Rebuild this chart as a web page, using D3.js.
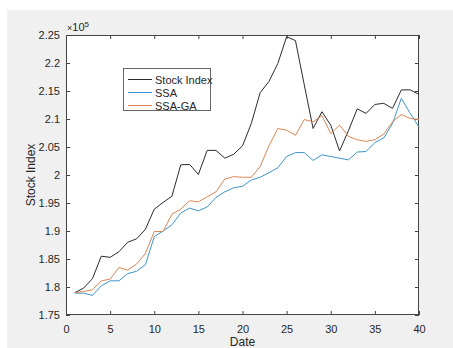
<!DOCTYPE html>
<html>
<head>
<meta charset="utf-8">
<script src="https://cdn.jsdelivr.net/npm/d3@7"></script>
<style>
  html, body { margin: 0; padding: 0; background: #fff; }
  svg { display: block; }
  text { font-family: "Liberation Sans", Arial, sans-serif; fill: #262626; }
</style>
</head>
<body>
<svg id="chart" width="453" height="348"></svg>
<script>
// Daily values in units of 1e5
const days = d3.range(1, 41);
const stockIndex = [1.790, 1.798, 1.815, 1.855, 1.853, 1.863, 1.880, 1.886, 1.903, 1.939,
                    1.951, 1.962, 2.018, 2.019, 2.001, 2.044, 2.044, 2.030, 2.037, 2.052,
                    2.092, 2.147, 2.167, 2.199, 2.247, 2.240, 2.161, 2.083, 2.113, 2.089,
                    2.043, 2.079, 2.118, 2.110, 2.126, 2.128, 2.119, 2.152, 2.152, 2.144];
const ssa =        [1.789, 1.789, 1.785, 1.802, 1.811, 1.811, 1.824, 1.828, 1.840, 1.890,
                    1.900, 1.911, 1.932, 1.941, 1.936, 1.943, 1.960, 1.970, 1.977, 1.980,
                    1.991, 1.996, 2.004, 2.013, 2.033, 2.040, 2.040, 2.026, 2.036, 2.033,
                    2.030, 2.027, 2.041, 2.042, 2.058, 2.066, 2.092, 2.137, 2.110, 2.086];
const ssaGa =      [1.790, 1.792, 1.795, 1.811, 1.814, 1.835, 1.830, 1.841, 1.860, 1.899,
                    1.899, 1.930, 1.939, 1.954, 1.952, 1.961, 1.970, 1.993, 1.997, 1.996,
                    1.996, 2.015, 2.052, 2.083, 2.080, 2.071, 2.099, 2.095, 2.106, 2.074,
                    2.089, 2.069, 2.063, 2.060, 2.063, 2.073, 2.095, 2.108, 2.101, 2.099];
const seriesNames = ["Stock Index", "SSA", "SSA-GA"];
const seriesColors = ["#2b2b2b", "#3d95c9", "#d98657"];
const xTicks = [0, 5, 10, 15, 20, 25, 30, 35, 40];
const yTicks = [1.75, 1.8, 1.85, 1.9, 1.95, 2, 2.05, 2.1, 2.15, 2.2, 2.25];

const svg = d3.select("#chart");

// figure background
svg.append("rect").attr("x", 7).attr("y", 10).attr("width", 446).attr("height", 338)
  .attr("fill", "#f0f0f0");

const plot = { left: 66, top: 35, right: 419, bottom: 315 };
const x = d3.scaleLinear().domain([0, 40]).range([plot.left, plot.right]);
const y = d3.scaleLinear().domain([1.75, 2.25]).range([plot.bottom, plot.top]);

// axes area
svg.append("rect").attr("x", plot.left).attr("y", plot.top)
  .attr("width", plot.right - plot.left).attr("height", plot.bottom - plot.top)
  .attr("fill", "#fff");

const fmtY = d => d3.format("")(+d.toFixed(2));
const axisColor = "#444";

function styleAxis(g, hideText) {
  g.select(".domain").remove();
  g.selectAll(".tick line").attr("stroke", axisColor);
  g.selectAll(".tick text").style("font-size", "11px").attr("fill", "#262626");
  if (hideText) g.selectAll(".tick text").remove();
}

svg.append("g").attr("transform", `translate(0,${plot.bottom})`)
  .call(d3.axisBottom(x).tickValues(xTicks).tickSize(-4).tickPadding(10).tickFormat(d3.format("d")))
  .call(g => styleAxis(g, false));
svg.append("g").attr("transform", `translate(0,${plot.top})`)
  .call(d3.axisTop(x).tickValues(xTicks).tickSize(-4))
  .call(g => styleAxis(g, true));
svg.append("g").attr("transform", `translate(${plot.left},0)`)
  .call(d3.axisLeft(y).tickValues(yTicks).tickSize(-4).tickPadding(6).tickFormat(fmtY))
  .call(g => styleAxis(g, false));
svg.append("g").attr("transform", `translate(${plot.right},0)`)
  .call(d3.axisRight(y).tickValues(yTicks).tickSize(-4))
  .call(g => styleAxis(g, true));

// box
svg.append("rect").attr("x", plot.left + 0.5).attr("y", plot.top + 0.5)
  .attr("width", plot.right - plot.left - 1).attr("height", plot.bottom - plot.top - 1)
  .attr("fill", "none").attr("stroke", axisColor).attr("stroke-width", 1);

// exponent
const expo = svg.append("text").attr("x", plot.left + 1).attr("y", plot.top - 4)
  .style("font-size", "11px");
expo.append("tspan").text("×").style("font-size", "9px");
expo.append("tspan").text("10");
expo.append("tspan").text("5").attr("dy", -4).style("font-size", "8px");

// axis titles
svg.append("text").attr("x", (plot.left + plot.right) / 2).attr("y", 346)
  .attr("text-anchor", "middle").style("font-size", "12px").text("Date");
svg.append("text").attr("transform", `translate(35,${(plot.top + plot.bottom) / 2}) rotate(-90)`)
  .attr("text-anchor", "middle").style("font-size", "12px").text("Stock Index");

// series
const allSeries = [stockIndex, ssa, ssaGa];
const line = d3.line().x((d, i) => x(days[i])).y(d => y(d));
allSeries.forEach((vals, k) => {
  svg.append("path").datum(vals).attr("d", line)
    .attr("fill", "none").attr("stroke", seriesColors[k]).attr("stroke-width", 1)
    .attr("stroke-linejoin", "round");
});

// legend
const lg = svg.append("g").attr("transform", "translate(123,68)");
lg.append("rect").attr("x", 0.5).attr("y", 0.5).attr("width", 87).attr("height", 42)
  .attr("fill", "#fff").attr("stroke", "#666").attr("stroke-width", 1);
seriesNames.forEach((name, k) => {
  const yy = 11.5 + k * 13;
  lg.append("line").attr("x1", 5).attr("x2", 29).attr("y1", yy).attr("y2", yy)
    .attr("stroke", seriesColors[k]).attr("stroke-width", 1);
  lg.append("text").attr("x", 32).attr("y", yy + 4).style("font-size", "11px").text(name);
});
</script>
</body>
</html>
